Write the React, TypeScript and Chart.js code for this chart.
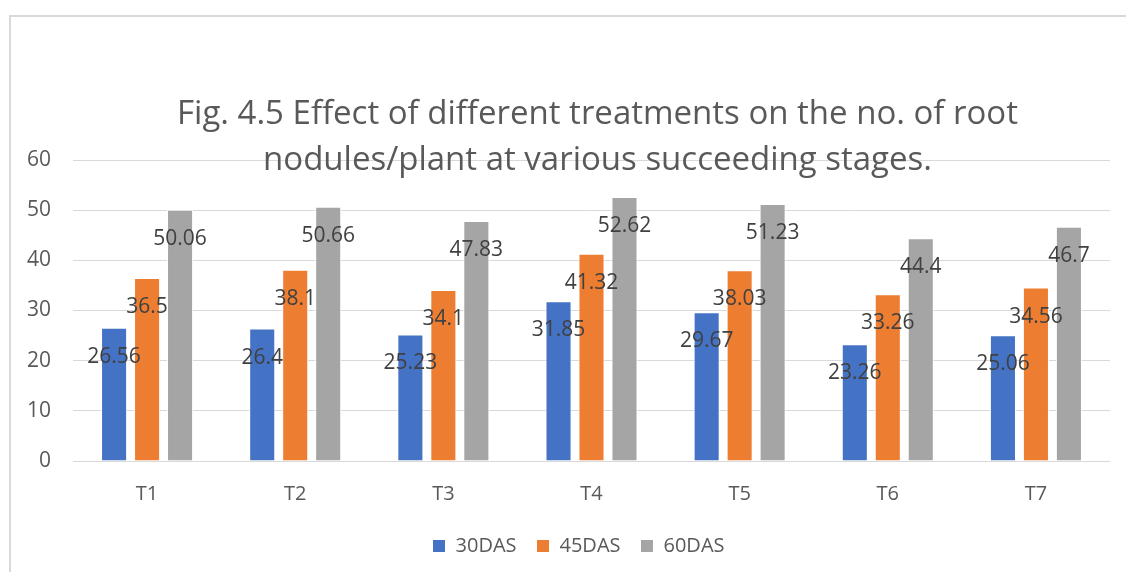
import React, { useEffect, useRef } from "react";
import { Chart, registerables } from "chart.js";

Chart.register(...registerables);

const categories = ["T1", "T2", "T3", "T4", "T5", "T6", "T7"];
const seriesNames = ["30DAS", "45DAS", "60DAS"];
const das30 = [26.56, 26.4, 25.23, 31.85, 29.67, 23.26, 25.06];
const das45 = [36.5, 38.1, 34.1, 41.32, 38.03, 33.26, 34.56];
const das60 = [50.06, 50.66, 47.83, 52.62, 51.23, 44.4, 46.7];
const seriesColors = ["#4472C4", "#ED7D31", "#A5A5A5"];
const yTicks = [0, 10, 20, 30, 40, 50, 60];
const titleLines = [
  "Fig. 4.5 Effect of different treatments on the no. of root",
  "nodules/plant at various succeeding stages.",
];

const FONT = "'Open Sans', 'Noto Sans', sans-serif";

const valueLabelPlugin = {
  id: "valueLabels",
  afterDatasetsDraw(chart: any) {
    const c = chart.ctx;
    c.save();
    c.font = `21px ${FONT}`;
    c.fillStyle = "#404040";
    c.textAlign = "center";
    c.textBaseline = "middle";
    chart.data.datasets.forEach((ds: any, i: number) => {
      const meta = chart.getDatasetMeta(i);
      meta.data.forEach((el: any, j: number) => {
        c.fillText(String(ds.data[j]), el.x, el.y + 29);
      });
    });
    c.restore();
  },
};

const titlePlugin = {
  id: "overlayTitle",
  afterDraw(chart: any) {
    const c = chart.ctx;
    const area = chart.chartArea;
    const cx = (area.left + area.right) / 2 + 6;
    c.save();
    c.font = `33px ${FONT}`;
    c.fillStyle = "#595959";
    c.textAlign = "center";
    c.textBaseline = "alphabetic";
    c.fillText(titleLines[0], cx, 124);
    c.fillText(titleLines[1], cx, 170);
    c.restore();
  },
};

// shift the legend so that it is centred like the original (offset to the right)
const legendShiftPlugin = {
  id: "legendShift",
  afterLayout(chart: any) {
    if (chart.legend) {
      chart.legend.left += 47;
    }
  },
};

export default function App() {
  const ref = useRef<HTMLCanvasElement>(null);

  useEffect(() => {
    document.body.style.margin = "0";
    document.body.style.overflow = "hidden";
    const canvas = ref.current!;
    const chart = new Chart(canvas, {
      type: "bar",
      data: {
        labels: categories,
        datasets: [das30, das45, das60].map((d, i) => ({
          label: seriesNames[i],
          data: d,
          backgroundColor: seriesColors[i],
          borderColor: "#ffffff",
          borderWidth: 1,
          categoryPercentage: 0.668,
          barPercentage: 0.79,
        })),
      },
      options: {
        responsive: false,
        animation: false,
        layout: { padding: { left: 0, right: 16, top: 160, bottom: 6 } },
        plugins: {
          title: { display: false },
          tooltip: { enabled: false },
          legend: {
            position: "bottom",
            labels: {
              boxWidth: 13,
              boxHeight: 13,
              padding: 20,
              color: "#595959",
              font: { family: FONT, size: 20 },
            },
          },
        },
        scales: {
          x: {
            grid: { display: false },
            border: { display: false },
            ticks: { color: "#595959", font: { family: FONT, size: 20 }, padding: 13 },
            afterFit: (s: any) => {
              s.height = 55;
            },
          },
          y: {
            min: 0,
            max: 60,
            afterBuildTicks: (s: any) => {
              s.ticks = yTicks.map((v) => ({ value: v }));
            },
            grid: { color: "#d9d9d9", lineWidth: 1, drawTicks: false },
            border: { display: false },
            ticks: { color: "#595959", font: { family: FONT, size: 21 }, padding: 22 },
            afterFit: (s: any) => {
              s.width = 73;
            },
          },
        },
      },
      plugins: [valueLabelPlugin, titlePlugin, legendShiftPlugin],
    } as any);
    return () => chart.destroy();
  }, []);

  return (
    <div style={{ position: "relative", width: 1126, height: 572, overflow: "hidden", background: "#fff" }}>
      <div
        style={{
          position: "absolute",
          left: 9,
          top: 15,
          width: 1300,
          height: 700,
          border: "2px solid #d9d9d9",
          boxSizing: "border-box",
        }}
      />
      <canvas
        ref={ref}
        width={1126}
        height={572}
        style={{ position: "absolute", left: 0, top: 0, width: 1126, height: 572 }}
      />
    </div>
  );
}
